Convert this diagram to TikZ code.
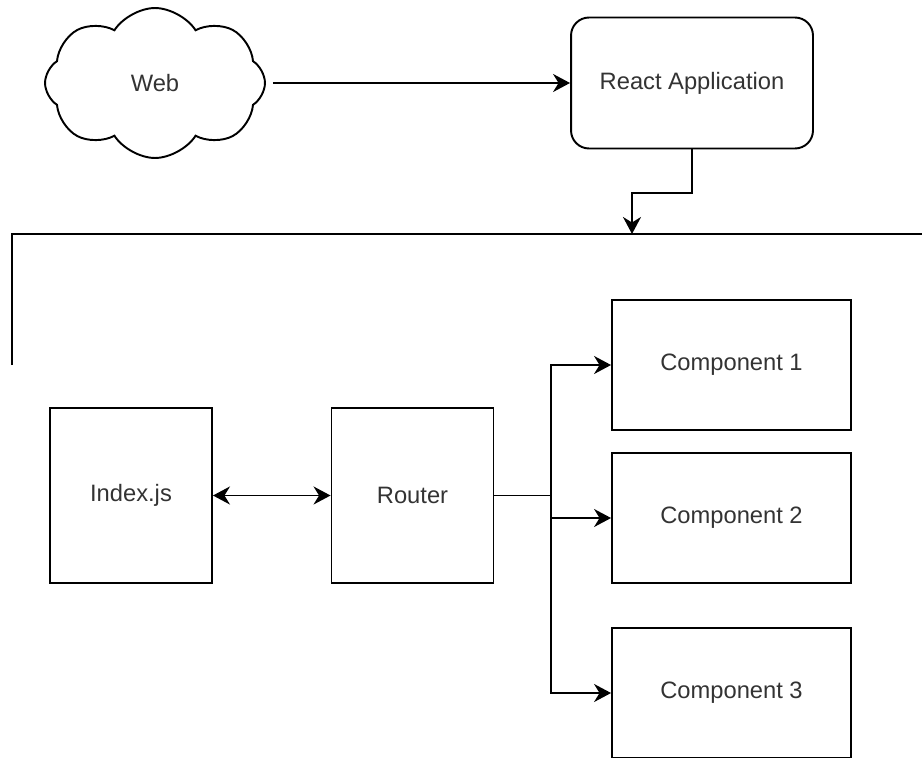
\documentclass[tikz,border=0pt]{standalone}
\usepackage{fontspec}
\setmainfont{Liberation Sans}
\usetikzlibrary{arrows.meta,shapes.symbols}

\begin{document}
\begin{tikzpicture}[x=0.02cm, y=-0.02cm, line width=1.1pt,
    every node/.style={text=black!80, font=\fontsize{13.5}{16}\selectfont},
    >={Stealth[length=0.34cm, width=0.36cm, inset=0.11cm]},
    box/.style={draw, minimum width=3.24cm, minimum height=3.5cm},
    comp/.style={draw, minimum width=4.78cm, minimum height=2.6cm}]
    \useasboundingbox (0,0) rectangle (922,757);

    \node[draw, cloud, cloud puffs=8, cloud puff arc=115, aspect=1.5,
          minimum width=4.4cm, minimum height=3cm] (web) at (155, 83) {Web};
    \node[draw, rounded corners=0.36cm, minimum width=4.84cm, minimum height=2.62cm]
          (react) at (692, 83) {React Application};

    \node[box] (index) at (131, 495.5) {Index.js};
    \node[box] (router) at (412.5, 495.5) {Router};

    \node[comp] (c1) at (731.5, 365) {Component 1};
    \node[comp] (c2) at (731.5, 518) {Component 2};
    \node[comp] (c3) at (731.5, 693) {Component 3};

    \coordinate (fl) at (12, 365);
    \coordinate (ft) at (12, 234);
    \coordinate (fr) at (922, 234);
    \coordinate (hit) at (632, 234);
    \coordinate (split) at (551, 495.5);

    \draw (fl) -- (ft) -- (fr);

    \draw[->, shorten <=0.14cm] (web) -- (react);
    \draw[->] (react.south) -- ++(0, 44) -| (hit);
    \draw[<->] (index) -- (router);
    \draw (router) -- (split);
    \draw[->] (split) |- (c1);
    \draw[->] (split |- c2) -- (c2);
    \draw[->] (split) |- (c3);
  \end{tikzpicture}
\end{document}
